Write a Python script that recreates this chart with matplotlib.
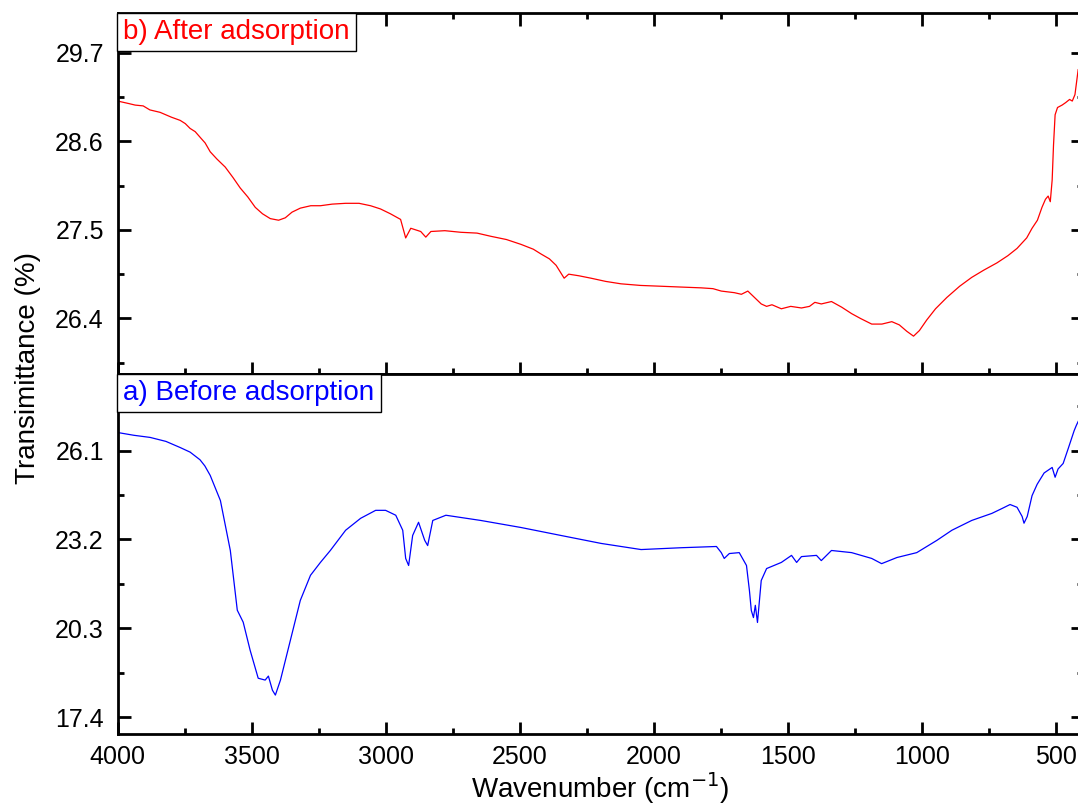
import numpy as np
import matplotlib
matplotlib.use("Agg")
import matplotlib.pyplot as plt
from matplotlib.ticker import MultipleLocator, AutoMinorLocator

plt.rcParams['font.family'] = ['Liberation Sans', 'DejaVu Sans']

# b) after adsorption (red), wavenumber in cm-1, transmittance in %
wn_after = [4000, 3960, 3935, 3905, 3880, 3842, 3800, 3767, 3748, 3730, 3711,
            3690, 3674, 3655, 3630, 3599, 3570, 3543, 3515, 3487, 3460, 3431, 3400, 3375,
            3350, 3319, 3280, 3244, 3200, 3150, 3100, 3057, 3020, 2983, 2945, 2926, 2907,
            2870, 2851, 2832, 2780, 2720, 2660, 2608, 2550, 2496, 2450, 2421, 2390, 2365,
            2335, 2318, 2280, 2235, 2180, 2123, 2050, 1974, 1900, 1824, 1780, 1749, 1700,
            1674, 1650, 1625, 1600, 1580, 1560, 1525, 1490, 1450, 1420, 1400, 1376, 1338,
            1300, 1263, 1230, 1188, 1150, 1113, 1085, 1057, 1032, 1010, 983, 950, 908, 860,
            815, 770, 721, 680, 646, 610, 590, 570, 553, 540, 530, 522, 515, 510, 504, 495,
            478, 465, 450, 440, 430, 418]
t_after = [29.10, 29.07, 29.05, 29.04, 28.99, 28.96, 28.90, 28.86, 28.82, 28.76, 28.72,
           28.64, 28.58, 28.47, 28.38, 28.28, 28.15, 28.02, 27.91, 27.78, 27.70, 27.64, 27.62, 27.65,
           27.72, 27.77, 27.80, 27.80, 27.82, 27.83, 27.83, 27.80, 27.76, 27.70, 27.63, 27.40, 27.52,
           27.48, 27.41, 27.48, 27.49, 27.47, 27.46, 27.42, 27.38, 27.32, 27.26, 27.20, 27.14, 27.06,
           26.90, 26.95, 26.93, 26.90, 26.86, 26.83, 26.81, 26.80, 26.79, 26.78, 26.77, 26.74, 26.72,
           26.70, 26.74, 26.66, 26.58, 26.55, 26.57, 26.52, 26.55, 26.53, 26.55, 26.60, 26.58, 26.61,
           26.54, 26.46, 26.40, 26.33, 26.33, 26.36, 26.32, 26.24, 26.18, 26.25, 26.38, 26.52, 26.66, 26.80,
           26.91, 27.00, 27.09, 27.18, 27.27, 27.40, 27.52, 27.62, 27.78, 27.88, 27.92, 27.85, 28.12, 28.55,
           28.93, 29.02, 29.05, 29.08, 29.12, 29.10, 29.18, 29.49]

# a) before adsorption (blue)
wn_before = [4000, 3940, 3879, 3820, 3767, 3730, 3693, 3675, 3655, 3617, 3580, 3554,
             3532, 3506, 3476, 3450, 3438, 3423, 3412, 3393, 3356, 3319, 3281, 3244,
             3207, 3150, 3094, 3038, 3001, 2963, 2937, 2926, 2915, 2900, 2878, 2855,
             2844, 2825, 2776, 2646, 2496, 2347, 2197, 2048, 1898, 1767, 1749, 1738,
             1719, 1682, 1655, 1644, 1637, 1629, 1622, 1614, 1600, 1580, 1525, 1487,
             1468, 1450, 1394, 1376, 1338, 1263, 1188, 1151, 1094, 1020, 945, 889, 815,
             740, 702, 672, 646, 627, 620, 608, 590, 571, 545, 515, 504, 493, 474, 455,
             433, 425, 418]
t_before = [26.69, 26.60, 26.53, 26.40, 26.20, 26.05, 25.80, 25.60, 25.29, 24.47, 22.84,
            20.89, 20.50, 19.58, 18.67, 18.61, 18.74, 18.28, 18.12, 18.61, 19.91, 21.21,
            22.03, 22.45, 22.84, 23.50, 23.89, 24.15, 24.15, 23.99, 23.50, 22.58, 22.35,
            23.33, 23.76, 23.17, 23.00, 23.82, 23.99, 23.82, 23.59, 23.33, 23.07, 22.87,
            22.93, 22.97, 22.77, 22.58, 22.74, 22.77, 22.35, 21.53, 20.88, 20.65, 21.05,
            20.49, 21.86, 22.25, 22.45, 22.68, 22.45, 22.64, 22.68, 22.51, 22.84, 22.77,
            22.58, 22.41, 22.61, 22.77, 23.17, 23.50, 23.82, 24.05, 24.21, 24.34, 24.25,
            23.95, 23.73, 23.95, 24.63, 25.00, 25.37, 25.55, 25.23, 25.50, 25.68, 26.17,
            26.75, 26.92, 27.05]

fig = plt.figure(figsize=(10.78, 8.05), dpi=100)
L, R = 117.7 / 1078, 1083 / 1078
ax_top = fig.add_axes([L, 1 - 374 / 805, R - L, (374 - 13.3) / 805])
ax_bot = fig.add_axes([L, 1 - 734 / 805, R - L, (734 - 374) / 805])

ax_top.plot(wn_after, t_after, color='red', lw=0.9)
ax_bot.plot(wn_before, t_before, color='blue', lw=0.9)

ax_top.set_ylim(25.71, 30.19)
ax_bot.set_ylim(16.85, 28.6)
ax_top.set_yticks([26.4, 27.5, 28.6, 29.7])
ax_bot.set_yticks([17.4, 20.3, 23.2, 26.1])

for ax in (ax_top, ax_bot):
    ax.set_xlim(4000, 400)
    ax.xaxis.set_major_locator(MultipleLocator(500))
    ax.xaxis.set_minor_locator(MultipleLocator(250))
    ax.yaxis.set_minor_locator(AutoMinorLocator(2))
    for s in ax.spines.values():
        s.set_linewidth(2)
    ax.tick_params(which='both', direction='in', width=2, labelsize=18,
                   top=True, right=True)
    ax.tick_params(which='major', length=9)
    ax.tick_params(which='minor', length=4.5)
    ax.tick_params(axis='y', pad=10)
    ax.tick_params(axis='x', pad=8)

ax_top.tick_params(axis='x', labelbottom=False)
ax_bot.tick_params(axis='x', which='both', top=False)
ax_bot.set_xlim(4000, 400)

box = dict(boxstyle='square,pad=0.22', fc='white', ec='black', lw=1)
ax_top.text(0.006, 0.984, 'b) After adsorption', color='red', fontsize=20,
            transform=ax_top.transAxes, ha='left', va='top', bbox=box)
ax_bot.text(0.006, 0.984, 'a) Before adsorption', color='blue', fontsize=20,
            transform=ax_bot.transAxes, ha='left', va='top', bbox=box)

fig.text(600 / 1078, 1 - 798 / 805, 'Wavenumber (cm$^{-1}$)', fontsize=20,
         ha='center', va='baseline')
fig.text(28 / 1078, 1 - 368 / 805, 'Transimittance (%)', rotation=90,
         fontsize=20, ha='center', va='center')

fig.savefig('out.png', dpi=100)
